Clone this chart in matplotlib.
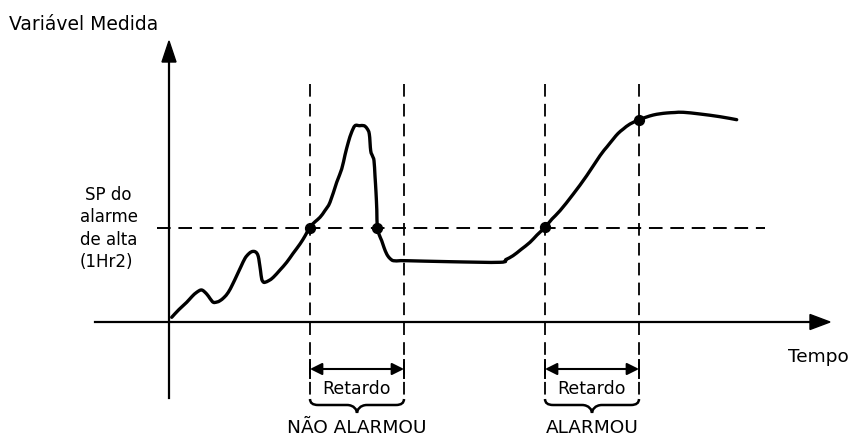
import matplotlib
matplotlib.use("Agg")
import matplotlib.pyplot as plt
from matplotlib.path import Path
from matplotlib.patches import PathPatch, FancyArrowPatch

# Process curve (time, measured variable) in figure pixel-like units (y grows downward)
curve_t = [171.7, 179, 186.7, 192, 196.7, 201.7, 206.7, 210, 213.3, 217, 220, 224, 228.3, 232.5, 236.7,
           241, 245, 248.5, 251.7, 254.5, 256.7, 258.3, 259.3, 260.5, 261.7, 263.3, 265, 269, 273.3,
           280, 286.7, 293, 300, 305, 310, 315, 320, 325, 330, 336.7, 341.7, 345, 348.3, 351.5, 355,
           359.5, 364, 367, 369.3, 370.7, 372.5, 374, 375, 376, 376.8, 377.3, 379.3, 381.7, 384,
           386.7, 389.5, 393.3, 400, 406.7, 450, 500, 506, 513, 521, 530, 537, 545, 552, 560, 573.3,
           586.7, 600, 607, 613.3, 618, 623.3, 630, 639.3, 646, 653.3, 660, 666.7, 675, 683.3, 700,
           720, 736.7]
curve_v = [318.3, 310.5, 303.3, 297.5, 293.3, 291, 295, 299.5, 303.3, 303, 301.7, 298.5, 293.3, 285.5,
           276.7, 267.5, 259.3, 255, 252.7, 252.5, 254, 257.5, 263.3, 271.5, 280, 283, 283.3, 281.5,
           278.3, 271, 263.3, 254.5, 245, 237, 228.3, 222.8, 218.3, 211.5, 203.3, 183.3, 170, 156,
           143.3, 133.5, 126.7, 126.7, 126.7, 129.5, 135, 151.7, 157, 161.7, 177, 193.3, 211, 228.3,
           236, 241.7, 248.5, 255, 259, 261.7, 261.7, 261.7, 262.7, 263.3, 260.5, 256.7, 250.5, 243.3,
           236, 228.3, 220, 211.7, 195, 176.7, 156.7, 147.8, 140, 134.5, 130, 125, 120.7, 118.2, 116,
           114.8, 114, 113.5, 113.3, 115, 117.7, 120.7]

sp_level = 229
crossings_t = [310, 377.3, 545, 639.3]
crossings_v = [228.5, 228.5, 228.3, 120.7]
delay_marks = [310, 404, 545, 639]
delay_groups = [(310, 404, "NÃO ALARMOU"), (545, 639, "ALARMOU")]
delay_label = "Retardo"

FONT = ["DejaVu Sans"]
plt.rcParams['font.family'] = FONT


def smooth_path(xs, ys, k=1 / 6):
    """Catmull-Rom style Bezier path through the given points (rendering only)."""
    pts = list(zip(xs, ys))
    verts = [pts[0]]
    codes = [Path.MOVETO]
    n = len(pts)
    for i in range(n - 1):
        p0 = pts[i - 1] if i > 0 else pts[i]
        p1 = pts[i]
        p2 = pts[i + 1]
        p3 = pts[i + 2] if i + 2 < n else pts[i + 1]
        c1 = (p1[0] + (p2[0] - p0[0]) * k, p1[1] + (p2[1] - p0[1]) * k)
        c2 = (p2[0] - (p3[0] - p1[0]) * k, p2[1] - (p3[1] - p1[1]) * k)
        verts += [c1, c2, p2]
        codes += [Path.CURVE4] * 3
    return Path(verts, codes)


fig = plt.figure(figsize=(8.53, 4.39), dpi=100)
ax = fig.add_axes([0, 0, 1, 1])
ax.set_xlim(0, 853)
ax.set_ylim(439, 0)
ax.axis('off')

# axes
ax.plot([169, 169], [399, 60], color='black', lw=1.6)
ax.add_patch(plt.Polygon([[162, 63], [176, 63], [169, 42]], closed=True, color='black'))
ax.plot([95, 812], [323, 323], color='black', lw=1.6)
ax.add_patch(plt.Polygon([[810, 315.5], [810, 330.5], [830, 323]], closed=True, color='black'))

# SP dashed line
ax.plot([157, 765], [sp_level, sp_level], color='black', lw=1.4, dashes=(7, 4))

# vertical dashed lines
for x in delay_marks:
    ax.plot([x, x], [85, 402], color='black', lw=1.3, dashes=(7, 4))

# curve
ax.add_patch(PathPatch(smooth_path(curve_t, curve_v), fill=False, lw=2.4, color='black',
                       joinstyle='round', capstyle='round'))
ax.scatter(crossings_t, crossings_v, s=50, color='black', zorder=5)

# delay arrows, labels and braces
for x1, x2, lab in delay_groups:
    ax.add_patch(FancyArrowPatch((x1, 370), (x2, 370), arrowstyle='<|-|>', mutation_scale=18,
                                 color='black', lw=1.5, shrinkA=0, shrinkB=0))
    ax.plot([x1, x1], [361, 379], color='black', lw=1.4)
    ax.plot([x2, x2], [361, 379], color='black', lw=1.4)
    xm = (x1 + x2) / 2
    ax.text(xm, 389, delay_label, ha='center', va='center', fontsize=12.5)
    top, tip = 400, 414
    verts = [(x1, top), (x1, top + 6), (x1 + 8, top + 6), (xm - 10, top + 6),
             (xm - 3, top + 6), (xm, tip - 3), (xm, tip),
             (xm, tip - 3), (xm + 3, top + 6), (xm + 10, top + 6),
             (x2 - 8, top + 6), (x2, top + 6), (x2, top)]
    codes = [Path.MOVETO, Path.CURVE3, Path.CURVE3, Path.LINETO,
             Path.CURVE4, Path.CURVE4, Path.CURVE4,
             Path.CURVE4, Path.CURVE4, Path.CURVE4,
             Path.LINETO, Path.CURVE3, Path.CURVE3]
    ax.add_patch(PathPatch(Path(verts, codes), fill=False, lw=1.8, color='black'))
    ax.text(xm, 428, lab, ha='center', va='center', fontsize=13.3)

ax.text(9, 24, "Variável Medida", ha='left', va='center', fontsize=13.5)
ax.text(788, 357, "Tempo", ha='left', va='center', fontsize=13.3)
for i, line in enumerate(["SP do", "alarme", "de alta", "(1Hr2)"]):
    ax.text(80 if i != 0 else 85, 195 + i * 22.3, line, ha='left', va='center', fontsize=12)

fig.savefig("out.png", dpi=100)
